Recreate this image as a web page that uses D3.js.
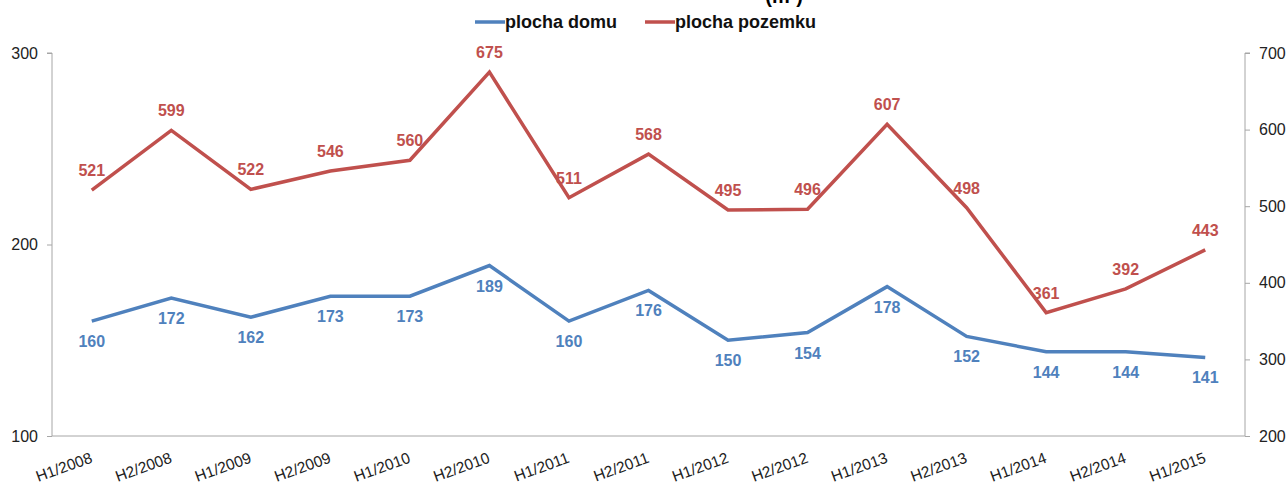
<!DOCTYPE html>
<html>
<head>
<meta charset="utf-8">
<script src="https://cdn.jsdelivr.net/npm/d3@7"></script>
<style>
  html, body { margin: 0; padding: 0; background: #fff; }
  svg { display: block; font-family: "Liberation Sans", Arial, sans-serif; }
</style>
</head>
<body>
<div id="chart"></div>
<script>
const periods = ['H1/2008', 'H2/2008', 'H1/2009', 'H2/2009', 'H1/2010', 'H2/2010', 'H1/2011', 'H2/2011',
  'H1/2012', 'H2/2012', 'H1/2013', 'H2/2013', 'H1/2014', 'H2/2014', 'H1/2015'];
const plochaDomu = [160, 172, 162, 173, 173, 189, 160, 176, 150, 154, 178, 152, 144, 144, 141];
const plochaPozemku = [521, 599, 522, 546, 560, 675, 511, 568, 495, 496, 607, 498, 361, 392, 443];
const leftTicks = [100, 200, 300];
const rightTicks = [200, 300, 400, 500, 600, 700];
const seriesNames = ['plocha domu', 'plocha pozemku'];

const width = 1288, height = 487;
const margin = { top: 53, right: 43, bottom: 51, left: 52 };
const w = width - margin.left - margin.right;
const h = height - margin.top - margin.bottom;

const blue = '#4f81bd';
const red = '#c0504d';
const axisColor = '#a6a6a6';
const font = 'Liberation Sans, Arial, sans-serif';

const svg = d3.select('#chart').append('svg')
  .attr('width', width)
  .attr('height', height)
  .attr('viewBox', [0, 0, width, height]);

// title, cut off at the top of the picture
svg.append('text')
  .attr('x', 803)
  .attr('y', 3)
  .attr('text-anchor', 'end')
  .attr('font-size', 20)
  .attr('font-weight', 'bold')
  .attr('fill', '#000')
  .text('(m²)');

const plot = svg.append('g')
  .attr('transform', `translate(${margin.left},${margin.top})`);

const x = d3.scalePoint().domain(periods).range([0, w]).padding(0.5);
const yL = d3.scaleLinear().domain([100, 300]).range([h, 0]);
const yR = d3.scaleLinear().domain([200, 700]).range([h, 0]);

// left axis
const gl = plot.append('g')
  .call(d3.axisLeft(yL).tickValues(leftTicks).tickSize(5).tickPadding(9));
gl.select('.domain').attr('stroke', axisColor).attr('d', `M-5,0H0V${h}`);
gl.selectAll('line').attr('stroke', axisColor);
gl.selectAll('text').attr('font-size', 16).attr('fill', '#222').attr('font-family', font);

// right axis
const gr = plot.append('g')
  .attr('transform', `translate(${w},0)`)
  .call(d3.axisRight(yR).tickValues(rightTicks).tickSize(5).tickPadding(9));
gr.select('.domain').attr('stroke', axisColor).attr('d', `M5,0H0V${h}`);
gr.selectAll('line').attr('stroke', axisColor);
gr.selectAll('text').attr('font-size', 16).attr('fill', '#222').attr('font-family', font);

// bottom axis
const gb = plot.append('g')
  .attr('transform', `translate(0,${h})`)
  .call(d3.axisBottom(x).tickSize(0).tickPadding(0));
gb.select('.domain').attr('stroke', axisColor).attr('d', `M0,0H${w}`);
gb.selectAll('text')
  .attr('font-size', 15.5)
  .attr('fill', '#222')
  .attr('font-family', font)
  .attr('text-anchor', 'end')
  .attr('dy', null)
  .attr('transform', 'translate(1,26) rotate(-20)');

const series = [
  { name: seriesNames[0], values: plochaDomu, y: yL, color: blue, dy: 26 },
  { name: seriesNames[1], values: plochaPozemku, y: yR, color: red, dy: -14 }
];

series.forEach(s => {
  const line = d3.line()
    .x((d, i) => x(periods[i]))
    .y(d => s.y(d));
  plot.append('path')
    .datum(s.values)
    .attr('fill', 'none')
    .attr('stroke', s.color)
    .attr('stroke-width', 3.5)
    .attr('stroke-linejoin', 'miter')
    .attr('d', line);

  plot.append('g')
    .selectAll('text')
    .data(s.values)
    .enter().append('text')
      .attr('x', (d, i) => x(periods[i]))
      .attr('y', d => s.y(d) + s.dy)
      .attr('text-anchor', 'middle')
      .attr('font-size', 16)
      .attr('font-weight', 'bold')
      .attr('fill', s.color)
      .text(d => d);
});

// legend
const legend = svg.append('g').attr('transform', 'translate(475,22)');
const items = [
  { name: seriesNames[0], color: blue, x: 0 },
  { name: seriesNames[1], color: red, x: 170 }
];
items.forEach(it => {
  legend.append('line')
    .attr('x1', it.x).attr('x2', it.x + 30)
    .attr('y1', 0).attr('y2', 0)
    .attr('stroke', it.color)
    .attr('stroke-width', 3.5);
  legend.append('text')
    .attr('x', it.x + 30)
    .attr('y', 6)
    .attr('font-size', 18)
    .attr('font-weight', 'bold')
    .attr('fill', '#111')
    .text(it.name);
});
</script>
</body>
</html>
